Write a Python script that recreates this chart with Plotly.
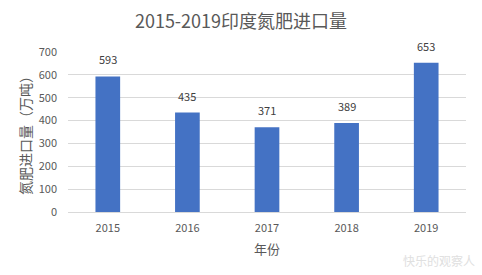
import plotly.graph_objects as go

years = ["2015", "2016", "2017", "2018", "2019"]
imports = [593, 435, 371, 389, 653]
y_ticks = [0, 100, 200, 300, 400, 500, 600, 700]

font_family = "Microsoft YaHei, Noto Sans CJK SC, DejaVu Sans, sans-serif"

fig = go.Figure()
fig.add_trace(go.Bar(
    x=years, y=imports,
    marker=dict(color="#4472C4", line=dict(width=0)),
    hoverinfo="x+y",
))

# category axes place annotations by category index
annotations = [dict(
    x=i, y=v, xref="x", yref="y", text=str(v), showarrow=False,
    yanchor="bottom", yshift=7, font=dict(size=11, color="#404040"),
) for i, v in enumerate(imports)]

annotations.append(dict(
    text="快乐的观察人", x=1.028, y=-0.3, xref="paper", yref="paper",
    xanchor="right", yanchor="middle", showarrow=False,
    font=dict(size=12, color="#e0e0e0"),
))

fig.update_layout(
    width=482, height=275,
    margin=dict(l=68, r=16, t=52, b=63),
    paper_bgcolor="white", plot_bgcolor="white",
    font=dict(family=font_family, color="#595959", size=11),
    title=dict(text="2015-2019印度氮肥进口量", x=0.5, xanchor="center",
               y=0.92, yanchor="middle",
               font=dict(size=18, color="#595959")),
    bargap=0.69,
    showlegend=False,
    xaxis=dict(
        type="category",
        range=[-0.5, len(years) - 0.5],
        title=dict(text="年份", font=dict(size=13, color="#595959"), standoff=10),
        showline=True, linecolor="#d9d9d9", linewidth=1,
        ticks="", ticklabelstandoff=6, tickfont=dict(size=11, color="#595959"),
    ),
    yaxis=dict(
        title=dict(text="氮肥进口量（万吨）", font=dict(size=14, color="#595959"), standoff=3),
        range=[0, 700], tickvals=y_ticks,
        showgrid=True, gridcolor="#d9d9d9", gridwidth=1,
        zeroline=False, ticks="", ticklabelstandoff=10,
        tickfont=dict(size=11, color="#595959"),
    ),
    annotations=annotations,
)

fig.write_html("out.html")
